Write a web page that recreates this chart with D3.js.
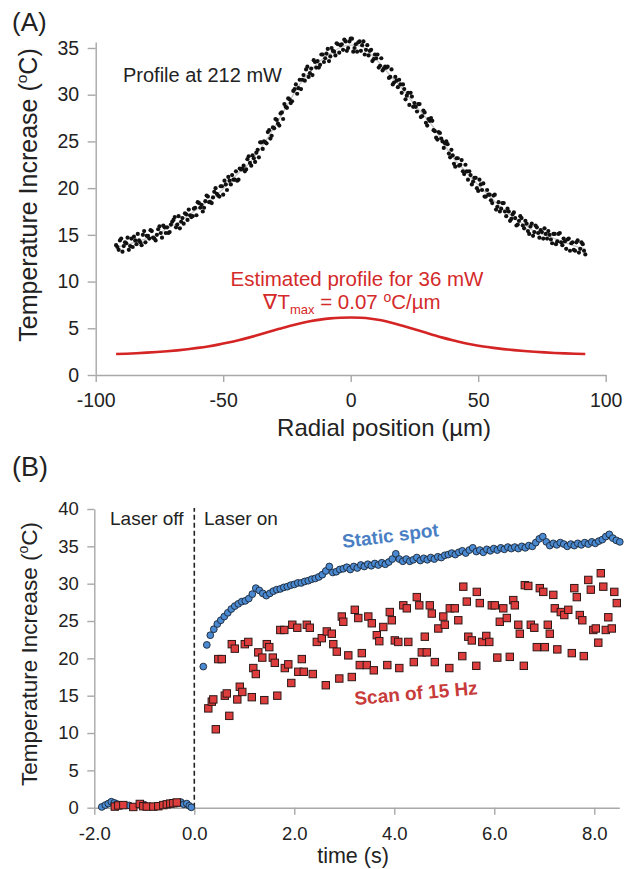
<!DOCTYPE html>
<html>
<head>
<meta charset="utf-8">
<script src="https://cdn.jsdelivr.net/npm/d3@7"></script>
<style>
  body { margin: 0; background: #fff; }
  svg text { font-family: "Liberation Sans", Arial, Helvetica, sans-serif; fill: #222; }
</style>
</head>
<body>
<svg id="chart" width="625" height="869"></svg>
<script>
// ---- panel A: measured profile at 212 mW (two interleaved sample sets) ----
const profXA = d3.range(185).map(i => -92 + i);
const profYA = [
  13.9, 13.4, 14.6, 13.8, 14.1, 13.4, 14.6, 14.8, 14.0, 14.4,
  13.9, 15.4, 14.9, 14.6, 15.4, 14.6, 15.0, 15.9, 14.7, 15.8,
  15.8, 15.3, 16.4, 16.9, 16.1, 15.7, 16.8, 17.3, 16.6, 17.1,
  17.0, 17.9, 18.5, 17.9, 17.5, 18.6, 19.1, 18.5, 19.0, 20.0,
  19.2, 20.2, 19.3, 20.4, 21.2, 20.4, 20.9, 21.8, 20.9, 22.0,
  22.4, 22.0, 23.4, 22.4, 23.2, 23.8, 23.3, 24.9, 25.0, 24.8,
  26.2, 25.6, 26.4, 27.3, 26.7, 28.1, 29.0, 28.6, 29.5, 29.3,
  30.6, 30.1, 31.6, 31.6, 31.5, 33.0, 32.3, 32.1, 33.5, 33.6,
  33.2, 34.3, 33.9, 34.9, 34.1, 34.7, 34.2, 35.4, 35.3, 34.8,
  35.7, 35.0, 36.0, 34.6, 35.4, 35.6, 34.7, 35.7, 34.8, 34.2,
  34.8, 33.8, 33.9, 32.9, 33.9, 32.8, 32.9, 31.8, 32.7, 31.3,
  31.5, 31.6, 30.2, 30.6, 29.9, 28.9, 29.8, 29.1, 28.2, 29.0,
  27.7, 28.1, 26.7, 27.2, 27.2, 26.1, 25.2, 25.9, 25.0, 24.8,
  24.7, 23.3, 23.5, 22.3, 23.2, 22.5, 21.8, 22.5, 20.9, 21.4,
  20.7, 21.1, 19.7, 20.4, 20.5, 19.1, 19.3, 18.7, 19.2, 17.7,
  18.5, 17.8, 18.4, 17.0, 17.5, 16.7, 17.4, 16.0, 16.5, 16.8,
  15.7, 16.2, 15.1, 16.2, 15.3, 15.8, 14.7, 15.3, 15.7, 14.6,
  15.0, 14.1, 15.1, 14.3, 15.2, 13.9, 14.3, 14.5, 13.3, 14.2,
  13.3, 14.4, 13.5, 14.0, 12.9
];
const profXB = d3.range(184).map(i => -91.5 + i);
const profYB = [
  13.7, 14.4, 13.2, 14.2, 14.7, 13.8, 13.7, 14.4, 15.1, 14.2,
  15.0, 14.2, 14.9, 15.5, 14.7, 14.4, 15.6, 15.2, 16.0, 15.2,
  15.2, 16.1, 16.6, 15.8, 17.0, 16.4, 16.2, 17.2, 17.7, 16.9,
  17.8, 17.1, 18.4, 18.2, 17.9, 19.2, 18.5, 18.4, 19.6, 19.4,
  19.1, 20.2, 20.8, 19.8, 20.8, 21.4, 20.9, 20.8, 22.1, 22.1,
  21.8, 23.1, 22.7, 23.5, 22.8, 24.1, 24.9, 24.2, 24.9, 26.0,
  25.3, 26.5, 27.4, 26.9, 28.0, 27.4, 28.7, 29.6, 29.1, 30.4,
  31.1, 30.7, 30.6, 32.1, 32.7, 31.9, 32.8, 33.7, 32.9, 32.9,
  34.3, 33.5, 34.4, 33.6, 35.0, 34.6, 35.5, 34.5, 35.4, 35.9,
  34.7, 35.7, 36.0, 35.0, 34.6, 35.7, 35.3, 34.3, 35.3, 34.7,
  33.6, 34.3, 34.3, 33.1, 32.6, 33.0, 33.0, 31.9, 31.1, 31.9,
  30.8, 31.1, 31.1, 29.5, 30.2, 30.2, 28.7, 28.7, 29.0, 27.6,
  28.3, 27.0, 27.4, 27.5, 26.2, 25.4, 26.0, 25.3, 24.3, 25.0,
  23.7, 24.1, 22.6, 23.2, 22.4, 23.0, 21.5, 21.8, 21.8, 20.4,
  21.1, 20.0, 20.9, 19.8, 19.1, 19.8, 19.3, 18.4, 19.3, 18.0,
  17.5, 18.4, 17.5, 17.8, 16.5, 17.2, 16.8, 16.1, 17.0, 16.0,
  16.5, 15.4, 15.9, 14.9, 16.0, 15.2, 15.5, 14.6, 15.1, 15.4,
  14.5, 15.1, 14.0, 15.1, 14.2, 14.6, 13.5, 14.6, 14.1, 13.4,
  14.2, 13.1, 14.2, 13.3
];
// faint grey trend through the measured profile
const fitX = d3.range(47).map(i => -92 + i * 4);
const fitY = [
  13.7, 13.9, 14.3, 14.6, 15.0, 15.7, 16.25, 17.0, 17.8, 18.6, 19.4, 20.5,
  21.6, 22.6, 24.0, 25.6, 27.4, 29.3, 31.1, 32.5, 33.6, 34.4, 35.05,
  35.3,
  35.2, 34.3, 33.2, 31.9, 30.7, 29.3, 28.0, 26.7, 25.0, 23.3, 22.1, 20.9,
  19.8, 18.7, 17.7, 16.8, 16.1, 15.4, 15.0, 14.6, 14.2, 13.8, 13.5
];
// estimated profile for 36 mW
const estX = d3.range(47).map(i => -92 + i * 4);
const estY = [
  2.24, 2.28, 2.33, 2.39, 2.46, 2.54, 2.64, 2.76, 2.90, 3.06, 3.25, 3.47,
  3.72, 4.00, 4.30, 4.62, 4.94, 5.25, 5.52, 5.75, 5.93, 6.06, 6.13,
  6.15,
  6.12, 6.02, 5.85, 5.60, 5.30, 4.98, 4.65, 4.32, 4.00, 3.72, 3.46, 3.24,
  3.05, 2.90, 2.77, 2.66, 2.57, 2.49, 2.42, 2.36, 2.31, 2.27, 2.24
];
const ticksAx = [-100, -50, 0, 50, 100];
const ticksAy = [0, 5, 10, 15, 20, 25, 30, 35];

// ---- panel B: static spot (blue) and 15 Hz scan (red) ----
const staticPreT = [-1.85, -1.78, -1.72, -1.66, -1.60, -1.55, -1.30, -1.00, -0.70, -0.32, -0.27, -0.21, -0.15, -0.10, -0.06];
const staticPreV = [0.1, 0.35, 0.55, 0.8, 0.65, 0.5, 0.3, 0.4, 0.2, 0.6, 0.75, 0.45, 0.55, 0.25, 0.05];
const staticT = d3.range(120).map(i => 0.18 + i * 0.07);
const staticV = [
  18.9, 21.8, 23.1, 23.9, 24.6, 25.1, 25.6, 26.1, 26.6, 27.0,
  27.3, 27.6, 27.7, 28.0, 28.6, 29.4, 29.1, 28.7, 28.4, 28.7,
  29.0, 29.2, 29.3, 29.5, 29.6, 29.8, 29.9, 30.1, 30.1, 30.3,
  30.4, 30.6, 30.7, 30.9, 31.2, 31.7, 32.3, 31.5, 31.6, 31.9,
  32.0, 32.2, 31.9, 32.3, 32.1, 32.5, 32.3, 32.6, 32.4, 32.7,
  32.5, 32.8, 32.6, 32.9, 33.3, 34.0, 33.3, 33.0, 33.3, 33.0,
  33.2, 33.5, 33.1, 33.4, 33.2, 33.5, 33.3, 33.6, 33.5, 33.8,
  33.9, 34.1, 33.9, 34.2, 34.4, 34.1, 34.5, 34.8, 34.3, 34.5,
  34.2, 34.6, 34.4, 34.7, 34.5, 34.8, 34.6, 34.9, 34.7, 34.9,
  34.7, 35.0, 34.8, 35.1, 35.0, 35.5, 36.0, 36.3, 35.6, 35.1,
  35.4, 35.2, 35.5, 35.3, 35.0, 35.3, 35.1, 35.4, 35.2, 35.5,
  35.3, 35.6, 35.4, 35.7, 35.9, 36.3, 36.6, 36.1, 35.8, 35.6
];
const scanT = [
  -1.59, -1.52, -1.42, -1.22, -1.09, -1.02, -0.95, -0.82, -0.72, -0.62, -0.55, -0.48, -0.42, -0.35,
  0.28, 0.35, 0.38, 0.43, 0.48, 0.55, 0.61, 0.65, 0.70, 0.75, 0.81, 0.86, 0.91, 0.96,
  1.01, 1.08, 1.15, 1.18, 1.23, 1.28, 1.36, 1.40, 1.45, 1.50, 1.57, 1.61, 1.66, 1.72,
  1.80, 1.81, 1.88, 1.94, 1.96, 2.06, 2.08, 2.15, 2.19, 2.25, 2.31, 2.37, 2.45, 2.55,
  2.63, 2.65, 2.75, 2.78, 2.85, 2.90, 2.95, 2.98, 3.08, 3.15, 3.21, 3.28, 3.31, 3.35,
  3.45, 3.48, 3.55, 3.59, 3.65, 3.70, 3.78, 3.86, 3.91, 3.95, 4.01, 4.08, 4.10, 4.18,
  4.25, 4.28, 4.39, 4.45, 4.50, 4.55, 4.61, 4.65, 4.71, 4.75, 4.81, 4.88, 4.98, 5.01,
  5.10, 5.11, 5.21, 5.28, 5.36, 5.38, 5.45, 5.48, 5.55, 5.64, 5.65, 5.71, 5.76, 5.84,
  5.90, 5.95, 6.01, 6.06, 6.11, 6.18, 6.25, 6.31, 6.38, 6.41, 6.48, 6.51, 6.59, 6.61,
  6.68, 6.73, 6.80, 6.85, 6.91, 6.98, 7.01, 7.07, 7.11, 7.18, 7.21, 7.26, 7.33, 7.40,
  7.48, 7.55, 7.60, 7.65, 7.71, 7.76, 7.79, 7.88, 7.93, 7.98, 8.03, 8.08, 8.13, 8.18,
  8.23, 8.28, 8.35, 8.40, 8.45
];
const scanV = [
  0.15, 0.3, 0.35, 0.1, 0.5, 0.2, 0.15, 0.15, 0.2, 0.35, 0.45, 0.55, 0.6, 0.7,
  13.3, 14.2, 14.5, 10.5, 19.9, 19.9, 15.0, 15.3, 12.3, 21.9, 21.3, 14.5, 16.2, 15.5,
  21.9, 22.2, 14.8, 18.7, 17.9, 20.8, 20.1, 14.4, 21.9, 21.5, 20.1, 19.4, 15.0, 23.8,
  23.8, 18.7, 19.2, 16.7, 24.5, 24.1, 18.2, 19.9, 18.2, 24.5, 24.1, 17.9, 22.2, 22.7,
  16.4, 23.6, 23.3, 21.9, 20.9, 17.3, 25.6, 24.9, 20.4, 17.5, 26.5, 25.4, 19.1, 20.7,
  19.1, 25.6, 24.7, 18.4, 23.1, 22.3, 24.2, 19.1, 26.2, 25.1, 22.4, 22.2, 18.7, 27.1,
  26.7, 22.2, 19.5, 28.2, 27.1, 20.8, 22.9, 20.8, 27.1, 26.0, 19.5, 24.0, 25.6, 24.5,
  18.7, 26.7, 26.7, 25.1, 20.3, 29.6, 27.6, 22.9, 22.4, 19.0, 28.9, 27.4, 22.2, 23.0,
  22.2, 27.1, 27.1, 20.1, 24.9, 26.7, 25.4, 20.2, 27.8, 27.1, 24.5, 23.3, 19.0, 29.8,
  29.7, 24.5, 24.1, 21.5, 29.4, 28.9, 21.5, 24.5, 23.3, 28.5, 26.7, 21.2, 26.2, 25.8,
  26.5, 20.7, 29.4, 28.2, 25.8, 25.1, 20.3, 30.5, 29.2, 23.8, 24.0, 22.1, 31.4, 29.6,
  23.8, 25.5, 24.0, 28.9, 27.4
];
const ticksBx = [-2, 0, 2, 4, 6, 8];
const ticksBy = [0, 5, 10, 15, 20, 25, 30, 35, 40];

const svg = d3.select('#chart');
const axisGrey = '#a8a8a8';

function styleAxis(g, size) {
  g.attr('font-size', null).attr('font-family', null);
  g.select('.domain').attr('stroke', axisGrey).attr('stroke-width', 1.4);
  g.selectAll('.tick line').attr('stroke', axisGrey).attr('stroke-width', 1.4);
  g.selectAll('.tick text').style('font-size', size + 'px').attr('fill', '#222');
}

// temperature title with the little superscript o
function tempTitle(x, y, size) {
  const t = svg.append('text')
    .attr('transform', `translate(${x},${y}) rotate(-90)`)
    .attr('text-anchor', 'middle')
    .style('font-size', size + 'px');
  t.append('tspan').text('Temperature Increase (');
  t.append('tspan').text('o').style('font-size', (size * 0.62) + 'px').attr('dy', -size * 0.42);
  t.append('tspan').text('C)').attr('dy', size * 0.42);
}

// ================= panel A =================
const xA = d3.scaleLinear().domain([-100, 100]).range([95.7, 605.7]);
const yA = d3.scaleLinear().domain([0, 35.64]).range([375, 42]);

svg.append('g')
  .attr('transform', 'translate(0,375)')
  .call(d3.axisBottom(xA).tickValues(ticksAx).tickFormat(d => String(d))
    .tickSize(7).tickPadding(11).tickSizeOuter(0))
  .call(g => styleAxis(g, 19.5));

svg.append('g')
  .attr('transform', 'translate(95.7,0)')
  .call(d3.axisLeft(yA).tickValues(ticksAy).tickFormat(d => String(d))
    .tickSize(8).tickPadding(8.5).tickSizeOuter(0))
  .call(g => styleAxis(g, 19.5));

svg.append('path')
  .datum(fitX.map((x, i) => [x, fitY[i]]))
  .attr('fill', 'none')
  .attr('stroke', '#c4c4c4')
  .attr('stroke-width', 1.2)
  .attr('d', d3.line().x(d => xA(d[0])).y(d => yA(d[1])).curve(d3.curveMonotoneX));

const dotsA = profXA.map((x, i) => [x, profYA[i]])
  .concat(profXB.map((x, i) => [x, profYB[i]]));
svg.append('g').selectAll('circle')
  .data(dotsA)
  .join('circle')
  .attr('cx', d => xA(d[0]))
  .attr('cy', d => yA(d[1]))
  .attr('r', 2.1)
  .attr('fill', '#111');

svg.append('path')
  .datum(estX.map((x, i) => [x, estY[i]]))
  .attr('fill', 'none')
  .attr('stroke', '#d42424')
  .attr('stroke-width', 2.6)
  .attr('d', d3.line().x(d => xA(d[0])).y(d => yA(d[1])).curve(d3.curveMonotoneX));

svg.append('text').attr('x', 12).attr('y', 31).style('font-size', '26px').text('(A)');
tempTitle(37, 195, 25);
svg.append('text').attr('x', 384).attr('y', 436).attr('text-anchor', 'middle')
  .style('font-size', '24px').text('Radial position (\u00b5m)');
svg.append('text').attr('x', 123).attr('y', 82).style('font-size', '20px').text('Profile at 212 mW');

const red = '#d42a2a';
svg.append('text').attr('x', 357).attr('y', 286).attr('text-anchor', 'middle')
  .style('font-size', '20.5px').style('fill', red).text('Estimated profile for 36 mW');
const grad = svg.append('text').attr('x', 352).attr('y', 309).attr('text-anchor', 'middle')
  .style('font-size', '20.5px').style('fill', red);
grad.append('tspan').text('\u2207T');
grad.append('tspan').text('max').style('font-size', '13px').attr('dy', 5);
grad.append('tspan').text(' = 0.07 ').attr('dy', -5);
grad.append('tspan').text('o').style('font-size', '14px').attr('dy', -7);
grad.append('tspan').text('C/\u00b5m').attr('dy', 7);

// ================= panel B =================
const xB = d3.scaleLinear().domain([-2, 8.5]).range([94.3, 619.3]);
const yB = d3.scaleLinear().domain([0, 40]).range([807.7, 509]);

svg.append('g')
  .attr('transform', 'translate(0,807.7)')
  .call(d3.axisBottom(xB).tickValues(ticksBx).tickFormat(d => d.toFixed(1))
    .tickSize(7).tickPadding(12).tickSizeOuter(0))
  .call(g => styleAxis(g, 18.5));

svg.append('g')
  .attr('transform', 'translate(94.3,0)')
  .call(d3.axisLeft(yB).tickValues(ticksBy).tickFormat(d => String(d))
    .tickSize(7).tickPadding(8.5).tickSizeOuter(0))
  .call(g => styleAxis(g, 18.5));

svg.append('line')
  .attr('x1', xB(0)).attr('x2', xB(0))
  .attr('y1', yB(0)).attr('y2', yB(40) - 1)
  .attr('stroke', '#222').attr('stroke-width', 1.6).attr('stroke-dasharray', '5,3');

const blue = staticPreT.map((t, i) => [t, staticPreV[i]])
  .concat(staticT.map((t, i) => [t, staticV[i]]));
svg.append('g').selectAll('circle')
  .data(blue)
  .join('circle')
  .attr('cx', d => xB(d[0]))
  .attr('cy', d => yB(d[1]))
  .attr('r', 3.4)
  .attr('fill', '#4a8ad2')
  .attr('stroke', '#1c2634')
  .attr('stroke-width', 0.9);

const sq = 7.4;
svg.append('g').selectAll('rect')
  .data(scanT.map((t, i) => [t, scanV[i]]))
  .join('rect')
  .attr('x', d => xB(d[0]) - sq / 2)
  .attr('y', d => yB(d[1]) - sq / 2)
  .attr('width', sq).attr('height', sq)
  .attr('fill', '#de3d3d')
  .attr('stroke', '#2e1818')
  .attr('stroke-width', 1);

svg.append('text').attr('x', 12).attr('y', 476).style('font-size', '27px').text('(B)');
tempTitle(37, 654, 22.5);
svg.append('text').attr('x', 353).attr('y', 863).attr('text-anchor', 'middle')
  .style('font-size', '21.5px').text('time (s)');
svg.append('text').attr('x', 110).attr('y', 525).style('font-size', '19px').text('Laser off');
svg.append('text').attr('x', 204).attr('y', 525).style('font-size', '19px').text('Laser on');
svg.append('text').attr('transform', 'translate(343,548) rotate(-7)')
  .style('font-size', '19px').style('font-weight', 'bold').style('fill', '#4a7fc4').text('Static spot');
svg.append('text').attr('transform', 'translate(355,705) rotate(-5)')
  .style('font-size', '19px').style('font-weight', 'bold').style('fill', '#c83b3b').text('Scan of 15 Hz');
</script>
</body>
</html>
